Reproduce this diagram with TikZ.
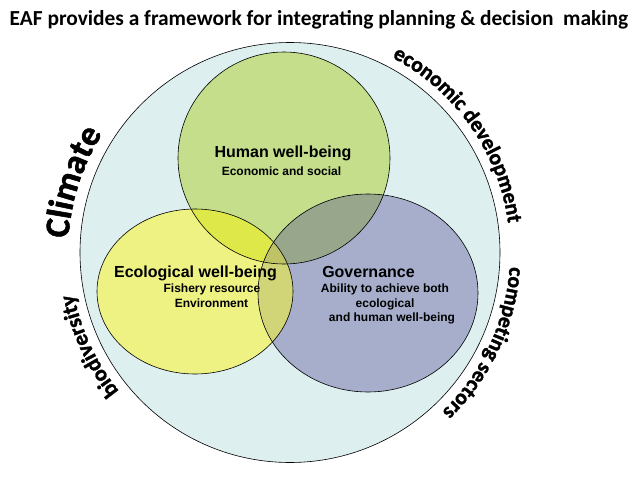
\documentclass[tikz,border=0pt]{standalone}
\usepackage{fontspec}
\setmainfont{Liberation Sans}
\newfontfamily\carl{Carlito}
\newfontfamily\carlh{Carlito}[BoldFeatures={FakeBold=1.6}]
\usetikzlibrary{decorations.text}
\definecolor{bgc}{RGB}{222,239,240}
\definecolor{hc}{RGB}{196,222,140}
\definecolor{ec}{RGB}{238,242,130}
\definecolor{gc}{RGB}{167,174,203}
\definecolor{hec}{RGB}{222,232,72}
\definecolor{hgc}{RGB}{152,166,140}
\definecolor{egc}{RGB}{210,212,120}
\definecolor{hegc}{RGB}{190,196,102}
\begin{document}
\begin{tikzpicture}[x=1pt,y=1pt,
  outl/.style={draw=black, line width=0.6pt},
  bigtxt/.style={font=\bfseries\fontsize{16}{18}\selectfont, anchor=base, inner sep=0pt},
  smalltxt/.style={font=\bfseries\fontsize{12}{14}\selectfont, anchor=base, inner sep=0pt},
  hshape/.style={insert path={(284,-158) circle[radius=106pt]}},
  eshape/.style={insert path={(195,-291.5) ellipse[x radius=98pt, y radius=82.5pt]}},
  gshape/.style={insert path={(368,-293) ellipse[x radius=110pt, y radius=99pt]}},
  bshape/.style={insert path={(290,-252.5) circle[radius=210pt]}}
]
\useasboundingbox (0,0) rectangle (638,-479);
% outer circle
\fill[bgc, bshape];
% fills
\fill[hc, hshape];
\fill[ec, eshape];
\fill[gc, gshape];
\begin{scope}\clip[hshape]; \fill[hec, eshape]; \end{scope}
\begin{scope}\clip[hshape]; \fill[hgc, gshape]; \end{scope}
\begin{scope}\clip[eshape]; \fill[egc, gshape]; \end{scope}
\begin{scope}\clip[hshape]; \clip[eshape]; \fill[hegc, gshape]; \end{scope}
% outlines
\draw[line width=0.6pt, bshape];
\draw[outl, hshape];
\draw[outl, eshape];
\draw[outl, gshape];
% title
\node[font=\carl\bfseries\fontsize{21.4}{24}\selectfont, anchor=base, inner sep=0pt] (title) at (319,-25) {EAF provides a framework for integrating planning \& decision\ \ making};
% texts
\node[bigtxt] (hw) at (283,-157) {Human well-being};
\node[smalltxt] (hws) at (281.5,-175) {Economic and social};
\node[bigtxt] (ew) at (195.5,-277) {Ecological well-being};
\node[smalltxt] (ew1) at (212,-292) {Fishery resource};
\node[smalltxt] (ew2) at (211.5,-307) {Environment};
\node[bigtxt] (gv) at (368.5,-277) {Governance};
\node[smalltxt] (gv1) at (385,-292) {Ability to achieve both};
\node[smalltxt] (gv2) at (385,-307) {ecological};
\node[smalltxt] (gv3) at (392,-321) {and human well-being};
% curved texts
\path[decorate, decoration={text along path, text align=center,
  text={|\carlh\bfseries\fontsize{21.5}{21.5}\selectfont|economic development}}]
  (290,-252.5) ++(80:220pt) arc[start angle=80, end angle=-10, radius=220pt];
\path[decorate, decoration={text along path, text align=center,
  text={|\carlh\bfseries\fontsize{21.5}{21.5}\selectfont|competing  sectors}}]
  (290,-252.5) ++(20:220pt) arc[start angle=20, end angle=-70, radius=220pt];
\path[decorate, decoration={text along path, text align=center,
  text={|\carlh\bfseries\fontsize{22}{22}\selectfont|biodiversity}}]
  (290,-252.5) ++(250:220pt) arc[start angle=250, end angle=160, radius=220pt];
\path[decorate, decoration={text along path, text align=center,
  text={|\carlh\bfseries\fontsize{35}{35}\selectfont|Climate}}]
  (290,-252.5) ++(207:222pt) arc[start angle=207, end angle=117, radius=222pt];
\end{tikzpicture}
\end{document}
